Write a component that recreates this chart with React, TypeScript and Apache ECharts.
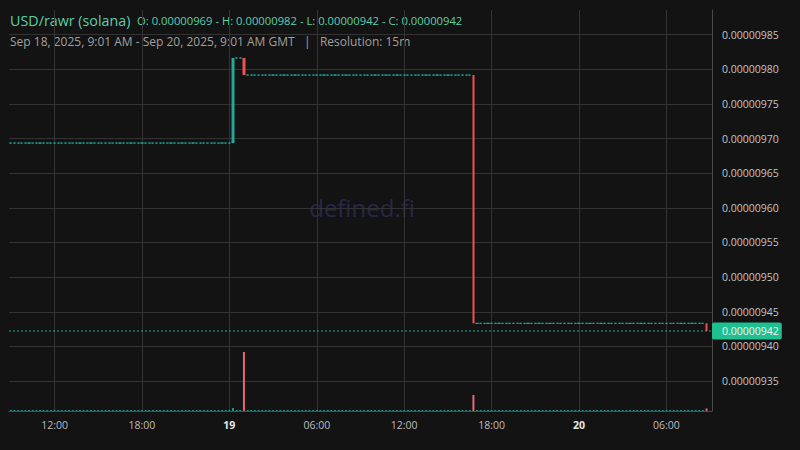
import React, { useEffect, useRef } from "react";
import * as echarts from "echarts";

// ---- data ----
const pairTitle = "USD/rawr (solana)";
const rangeText = "Sep 18, 2025, 9:01 AM - Sep 20, 2025, 9:01 AM GMT";
const resolutionText = "Resolution: 15m";
const watermarkText = "defined.fi";

// 15-minute slots, Sep 18 09:00 GMT .. Sep 20 09:00 GMT
const slotStartUtc = Date.UTC(2025, 8, 18, 9, 0);
const slotMinutes = 15;
const slotCount = 193;
const candleCount = 192;

// price before the first trade, then the trades (slot index, close, volume)
const startPrice = 0.0000096936;
const tradeSlots = [61, 64, 127, 191];
const tradeCloses = [0.0000098164, 0.0000097918, 0.0000094333, 0.0000094222];
const tradeVolumes = [3, 59, 16, 2.5];

// price axis extent and volume axis max
const priceMin = 0.0000093067;
const priceMax = 0.0000098857;
const volumeMax = 100;

const UP = "#26a69a";
const DOWN = "#ef5350";
const UP_VOL = "rgba(38,166,154,0.85)";
const DOWN_VOL = "#e5677a";
const BG = "#131313";
const GRID = "#333333";
const AXIS = "#4a4a4a";
const FONT = "'Open Sans', 'Noto Sans', sans-serif";

const pad2 = (n: number) => String(n).padStart(2, "0");
const slotLabels: string[] = Array.from({ length: slotCount }, (_, i) => {
  const d = new Date(slotStartUtc + i * slotMinutes * 60000);
  return `${d.getUTCFullYear()}-${pad2(d.getUTCMonth() + 1)}-${pad2(d.getUTCDate())} ${pad2(
    d.getUTCHours()
  )}:${pad2(d.getUTCMinutes())}`;
});

function buildSeries() {
  const candles: any[] = [];
  const volumes: any[] = [];
  let last = startPrice;
  for (let i = 0; i < candleCount; i++) {
    const t = tradeSlots.indexOf(i);
    if (t >= 0) {
      const o = last;
      const c = tradeCloses[t];
      candles.push({ value: [o, c, Math.min(o, c), Math.max(o, c)], itemStyle: { borderWidth: 0 } });
      volumes.push({ value: tradeVolumes[t], itemStyle: { color: c >= o ? UP_VOL : DOWN_VOL } });
      last = c;
    } else {
      candles.push({ value: [last, last, last, last] });
      volumes.push({ value: 0, itemStyle: { color: UP_VOL } });
    }
  }
  return { candles, volumes, lastClose: last };
}

const isMajorTick = (value: string) => {
  const h = Number(value.slice(11, 13));
  const m = Number(value.slice(14, 16));
  return m === 0 && h % 6 === 0;
};

export default function App() {
  const ref = useRef<HTMLDivElement>(null);

  useEffect(() => {
    if (!ref.current) return;
    const chart = echarts.init(ref.current, undefined, { renderer: "svg" });
    const { candles, volumes, lastClose } = buildSeries();
    const fmt = (v: number) => v.toFixed(8);
    const vals = candles.map((c) => c.value as number[]);
    const O = vals[0][0];
    const H = Math.max(...vals.map((c) => c[3]));
    const L = Math.min(...vals.map((c) => c[2]));
    const C = lastClose;
    const ohlcText = `O: ${fmt(O)} - H: ${fmt(H)} - L: ${fmt(L)} - C: ${fmt(C)}`;

    const xCommon = {
      type: "category" as const,
      data: slotLabels,
      boundaryGap: true,
    };

    chart.setOption({
      animation: false,
      backgroundColor: BG,
      textStyle: { fontFamily: FONT },
      grid: [
        { left: 9, right: 88, top: 10, bottom: 39 },
        { left: 9, right: 88, top: 311, bottom: 39 },
      ],
      xAxis: [
        {
          ...xCommon,
          gridIndex: 0,
          axisLine: { show: true, lineStyle: { color: AXIS } },
          axisTick: { show: false },
          axisLabel: {
            interval: (_i: number, v: string) => isMajorTick(v),
            formatter: (v: string) =>
              v.slice(11) === "00:00" ? `{b|${Number(v.slice(8, 10))}}` : v.slice(11),
            color: "#bdbdbd",
            fontSize: 10.5,
            fontFamily: FONT,
            margin: 8,
            rich: {
              b: { fontWeight: "bold", color: "#e6e6e6", fontSize: 10.5, fontFamily: FONT },
            },
          },
          splitLine: {
            show: true,
            interval: (_i: number, v: string) => isMajorTick(v),
            alignWithLabel: true,
            lineStyle: { color: GRID, width: 1 },
          },
        },
        {
          ...xCommon,
          gridIndex: 1,
          show: false,
        },
        {
          type: "category",
          gridIndex: 0,
          data: [slotLabels[0], slotLabels[slotCount - 1]],
          boundaryGap: false,
          show: false,
        },
      ],
      yAxis: [
        {
          type: "value",
          gridIndex: 0,
          position: "right",
          min: priceMin,
          max: priceMax,
          splitNumber: 12,
          axisLine: { show: true, lineStyle: { color: AXIS } },
          axisTick: { show: false },
          axisLabel: {
            formatter: (v: number) => fmt(v),
            color: "#c4c4c4",
            fontSize: 10.5,
            fontFamily: FONT,
            margin: 10,
            showMinLabel: false,
            showMaxLabel: false,
          },
          splitLine: {
            show: true,
            showMinLine: false,
            showMaxLine: false,
            lineStyle: { color: GRID, width: 1 },
          },
        },
        {
          type: "value",
          gridIndex: 1,
          min: 0,
          max: volumeMax,
          show: false,
          splitLine: { show: false },
        },
      ],
      graphic: [
        {
          type: "text",
          x: 362,
          y: 207,
          z: 0,
          style: {
            text: watermarkText,
            fill: "#27274a",
            font: `24px ${FONT}`,
            textAlign: "center",
            textVerticalAlign: "middle",
          },
        },
        {
          type: "text",
          x: 10,
          y: 20,
          style: {
            text: pairTitle,
            fill: "#5ccfa8",
            font: `14.3px ${FONT}`,
            textVerticalAlign: "middle",
          },
        },
        {
          type: "text",
          x: 137,
          y: 20,
          style: {
            text: ohlcText,
            fill: "#5ccfa8",
            font: `11.25px ${FONT}`,
            textVerticalAlign: "middle",
          },
        },
        {
          type: "text",
          x: 10,
          y: 41,
          style: {
            text: `${rangeText}   |   ${resolutionText}`,
            fill: "#a0a0a0",
            font: `12px ${FONT}`,
            textVerticalAlign: "middle",
          },
        },
      ],
      series: [
        {
          type: "line",
          name: "last price",
          xAxisIndex: 2,
          yAxisIndex: 0,
          data: [lastClose, lastClose],
          showSymbol: false,
          symbol: "none",
          silent: true,
          z: 1,
          lineStyle: { color: UP, type: [2, 2], width: 1 },
          endLabel: {
            show: true,
            distance: 0,
            formatter: () => fmt(lastClose),
            color: "#f4f4f4",
            fontSize: 10.5,
            fontFamily: FONT,
            backgroundColor: "#1fbf8f",
            padding: [3, 3, 3, 10],
            borderRadius: 2,
          },
        },
        {
          type: "candlestick",
          xAxisIndex: 0,
          yAxisIndex: 0,
          data: candles,
          barWidth: 2.7,
          z: 3,
          itemStyle: {
            color: UP,
            color0: DOWN,
            borderColor: UP,
            borderColor0: DOWN,
            borderColorDoji: UP,
            borderWidth: 1,
          },
        },
        {
          type: "bar",
          xAxisIndex: 1,
          yAxisIndex: 1,
          data: volumes,
          barWidth: 2,
          barMinHeight: 1,
        },
      ],
    });
    return () => chart.dispose();
  }, []);

  return (
    <div
      ref={ref}
      style={{ position: "fixed", left: 0, top: 0, width: 800, height: 450, background: BG }}
    />
  );
}
